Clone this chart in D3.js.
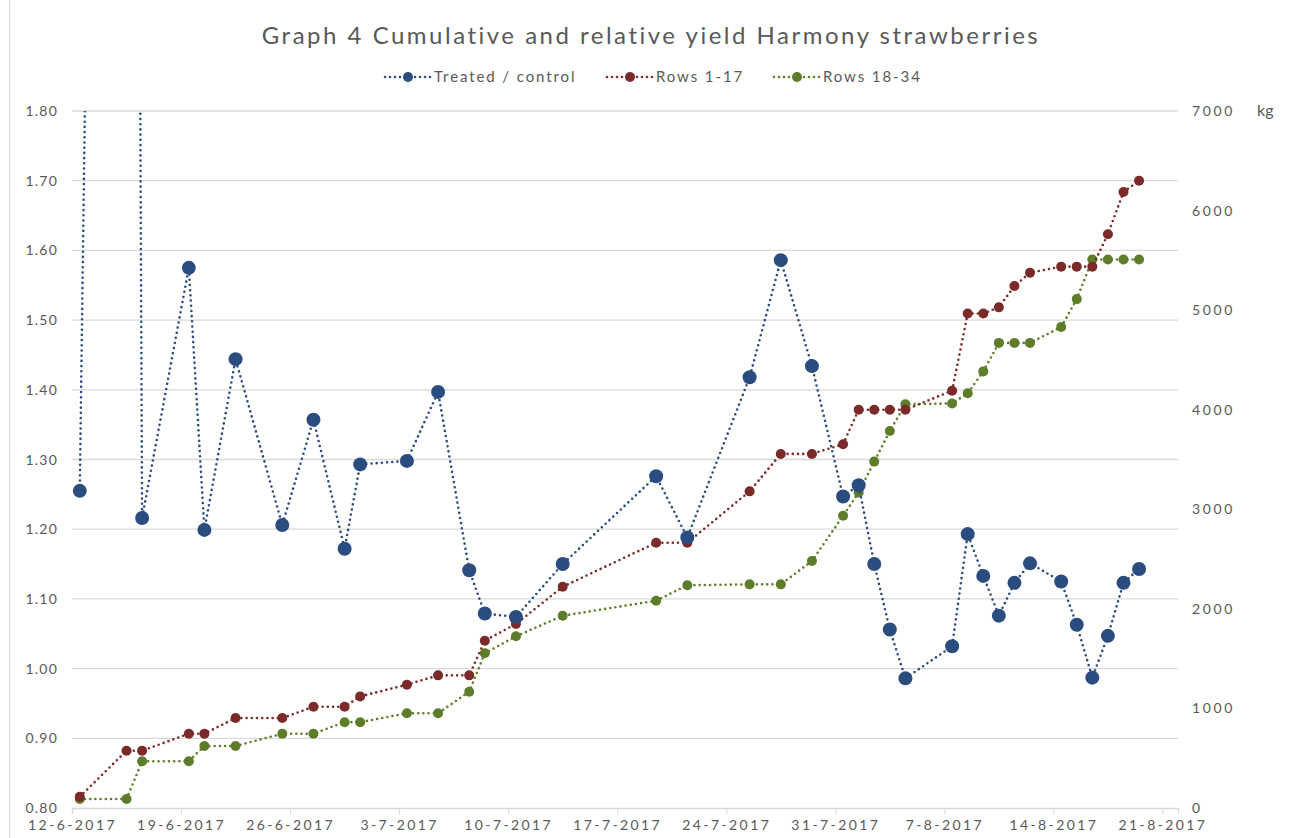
<!DOCTYPE html>
<html>
<head>
<meta charset="utf-8">
<script src="https://cdn.jsdelivr.net/npm/d3@7"></script>
<style>
  body { margin: 0; background: #fff; }
  text { font-family: Lato, "DejaVu Sans", sans-serif; fill: #595959; }
</style>
</head>
<body>
<div id="chart"></div>
<script>
// harvest dates (day-month, 2017)
const dates = ["12-6","15-6","16-6","19-6","20-6","22-6","25-6","27-6","29-6","30-6",
  "3-7","5-7","7-7","8-7","10-7","13-7","19-7","21-7","25-7","27-7","29-7","31-7",
  "1-8","2-8","3-8","4-8","7-8","8-8","9-8","10-8","11-8","12-8","14-8","15-8","16-8",
  "17-8","18-8","19-8"];

// treated / control ratio (left axis), day 15-6 is far above the axis
const ratio = [1.255, 6.3, 1.216, 1.575, 1.199, 1.444, 1.206, 1.357, 1.172, 1.293,
  1.298, 1.397, 1.141, 1.079, 1.074, 1.150, 1.276, 1.188, 1.418, 1.586, 1.434, 1.247,
  1.263, 1.150, 1.056, 0.986, 1.032, 1.193, 1.133, 1.076, 1.123, 1.151, 1.125, 1.063,
  0.987, 1.047, 1.123, 1.143];

// cumulative yield kg (right axis)
const rows1_17 = [113, 575, 575, 746, 746, 904, 904, 1017, 1017, 1121,
  1238, 1332, 1332, 1680, 1848, 2222, 2664, 2664, 3180, 3556, 3556, 3654,
  4000, 4000, 4000, 4000, 4191, 4966, 4966, 5028, 5243, 5375, 5437, 5437, 5437,
  5762, 6186, 6300];
const rows18_34 = [90, 90, 469, 469, 623, 623, 746, 746, 862, 862,
  951, 951, 1168, 1554, 1724, 1931, 2082, 2237, 2246, 2246, 2480, 2935,
  3168, 3479, 3786, 4054, 4063, 4165, 4385, 4671, 4671, 4671, 4830, 5111, 5508,
  5508, 5508, 5508];

const leftTicks = [0.8, 0.9, 1.0, 1.1, 1.2, 1.3, 1.4, 1.5, 1.6, 1.7, 1.8];
const rightTicks = [0, 1000, 2000, 3000, 4000, 5000, 6000, 7000];

const width = 1291, height = 838;
const mLeft = 72, mRight = 1178, mTop = 111, mBottom = 808;

const parse = s => { const [d, m] = s.split("-").map(Number); return new Date(2017, m - 1, d, 12); };
const days = dates.map(parse);

const start = new Date(2017, 5, 12), end = new Date(2017, 7, 22);
const x = d3.scaleTime().domain([start, end]).range([mLeft, mRight]);
const yL = d3.scaleLinear().domain([0.8, 1.8]).range([mBottom, mTop]);
const yR = d3.scaleLinear().domain([0, 7000]).range([mBottom, mTop]);

const svg = d3.select("#chart").append("svg")
  .attr("width", width).attr("height", height);

svg.append("line")
  .attr("x1", 9.5).attr("x2", 9.5).attr("y1", 0).attr("y2", height)
  .attr("stroke", "#d9d9d9");

// title
svg.append("text")
  .attr("x", 651).attr("y", 44)
  .attr("text-anchor", "middle")
  .attr("font-size", 24)
  .attr("letter-spacing", 2.5)
  .text("Graph 4 Cumulative and relative yield Harmony strawberries");

// gridlines
svg.append("g").selectAll("line")
  .data(leftTicks.slice(1))
  .join("line")
    .attr("x1", mLeft).attr("x2", mRight)
    .attr("y1", d => yL(d)).attr("y2", d => yL(d))
    .attr("stroke", "#d9d9d9").attr("stroke-width", 1.3);

// left axis labels
svg.append("g").selectAll("text")
  .data(leftTicks)
  .join("text")
    .attr("x", 58).attr("y", d => yL(d) + 5)
    .attr("text-anchor", "end")
    .attr("font-size", 14)
    .attr("letter-spacing", 1.2)
    .text(d3.format(".2f"));

// right axis labels
svg.append("g").selectAll("text")
  .data(rightTicks)
  .join("text")
    .attr("x", 1192).attr("y", d => yR(d) + 5)
    .attr("font-size", 14)
    .attr("letter-spacing", 2.6)
    .text(d => d);
svg.append("text")
  .attr("x", 1257).attr("y", 116)
  .attr("font-size", 16)
  .text("kg");

// x axis, one tick a week from 12-6
const xTicks = d3.timeDay.range(start, end, 7);
const axeX = d3.axisBottom(x)
  .tickValues(xTicks)
  .tickSize(6)
  .tickFormat(d => `${d.getDate()}-${d.getMonth() + 1}-${d.getFullYear()}`);
const gx = svg.append("g")
  .attr("transform", `translate(0,${mBottom})`)
  .call(axeX);
gx.select(".domain").attr("stroke", "#d9d9d9").attr("stroke-width", 1.3);
gx.selectAll(".tick line").attr("stroke", "#d9d9d9");
gx.selectAll(".tick text")
  .attr("y", 12)
  .attr("font-size", 14)
  .attr("letter-spacing", 2.4)
  .attr("font-family", "Lato, 'DejaVu Sans', sans-serif")
  .attr("fill", "#595959");

svg.append("clipPath").attr("id", "clip")
  .append("rect").attr("x", 0).attr("y", mTop).attr("width", width).attr("height", height - mTop);

const series = [
  { name: "Treated / control", values: ratio, y: yL, color: "#2b4c7e", r: 7 },
  { name: "Rows 1-17", values: rows1_17, y: yR, color: "#7a2a28", r: 5 },
  { name: "Rows 18-34", values: rows18_34, y: yR, color: "#5e7d2a", r: 5 }
];

// draw green first, then red, then blue on top
[series[2], series[1], series[0]].forEach(s => {
  const pts = days.map((d, i) => [x(d), s.y(s.values[i])]);
  svg.append("path")
    .attr("clip-path", "url(#clip)")
    .attr("d", d3.line()(pts))
    .attr("fill", "none")
    .attr("stroke", s.color)
    .attr("stroke-width", 2.6)
    .attr("stroke-linecap", "round")
    .attr("stroke-dasharray", "0 5.2");
  svg.append("g").selectAll("circle")
    .data(pts.filter(p => p[1] >= mTop))
    .join("circle")
      .attr("cx", p => p[0]).attr("cy", p => p[1])
      .attr("r", s.r)
      .attr("fill", s.color);
});

// legend
const legendX = [385, 607, 774];
series.forEach((s, i) => {
  const g = svg.append("g").attr("transform", `translate(${legendX[i]},77)`);
  g.append("line")
    .attr("x1", 0).attr("x2", 46)
    .attr("stroke", s.color).attr("stroke-width", 2.6)
    .attr("stroke-linecap", "round").attr("stroke-dasharray", "0 5");
  g.append("circle").attr("cx", 23).attr("r", 5).attr("fill", s.color);
  g.append("text")
    .attr("x", 49).attr("y", 5)
    .attr("font-size", 15)
    .attr("letter-spacing", 1.9)
    .text(s.name);
});
</script>
</body>
</html>
